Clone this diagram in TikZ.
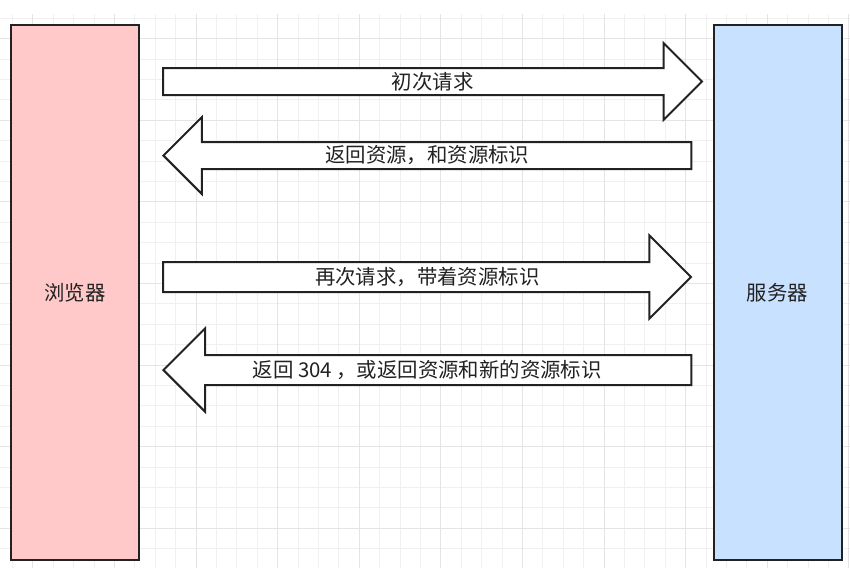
\documentclass[tikz,border=0pt]{standalone}
\usepackage{fontspec}
\setmainfont{Noto Sans CJK SC}
\usetikzlibrary{shapes.arrows,positioning,calc}
\definecolor{browserpink}{HTML}{FFC9C9}
\definecolor{serverblue}{HTML}{C8E1FF}
\definecolor{gridminor}{HTML}{F0F0F0}
\definecolor{gridmajor}{HTML}{E4E4E4}
\definecolor{inkgray}{HTML}{222222}

\begin{document}
\begin{tikzpicture}
  [x=0.75pt, y=-0.75pt,
   endpoint/.style={
     rectangle,
     draw=inkgray,
     line width=1.5pt,
     minimum width=96pt,
     minimum height=401.25pt,
     inner sep=0pt,
     text=inkgray,
     font=\fontsize{15.3pt}{18pt}\selectfont
     },
   message/.style={
     single arrow,
     draw=inkgray,
     fill=white,
     line width=1.5pt,
     inner sep=0pt,
     minimum width=0pt,
     minimum height=396pt,
     text height=15.1pt,
     text depth=3.65pt,
     single arrow head extend=18.75pt
     },
   wide message/.style={
     message,
     text height=16.2pt,
     text depth=4.8pt,
     single arrow head extend=20pt
     },
   caption/.style={
     inner sep=0pt,
     text=inkgray,
     font=\fontsize{15.3pt}{18pt}\selectfont
     }
  ]
  \useasboundingbox (0,0) rectangle (850,572);

  % griglia di sfondo
  \foreach \i in {0,...,41}
    \draw[gridminor, line width=0.75pt] (12.4+20.4*\i,14) -- (12.4+20.4*\i,568);
  \foreach \j in {0,...,26}
    \draw[gridminor, line width=0.75pt] (0,18.2+20.4*\j) -- (850,18.2+20.4*\j);
  \foreach \i in {0,...,10}
    \draw[gridmajor, line width=0.75pt] (32.8+81.6*\i,14) -- (32.8+81.6*\i,568);
  \foreach \j in {0,...,6}
    \draw[gridmajor, line width=0.75pt] (0,38.6+81.6*\j) -- (850,38.6+81.6*\j);

  \node [endpoint, fill=browserpink] (browser) at (75,292.5) {浏览器};
  \node [endpoint, fill=serverblue] (server) at (777.5,292.5) {服务器};

  \node [message, minimum height=404.25pt, anchor=tail] (firstrequest) at (162,81.5) {};
  \node [message, shape border rotate=180, anchor=tip] (firstreply) at (162,155.5) {};
  \node [wide message, anchor=tail] (secondrequest) at (162,277) {};
  \node [wide message, shape border rotate=180, anchor=tip] (secondreply) at (162,370) {};

  \node [caption] (firstrequesttext) at ($(firstrequest.tail)!0.5!(firstrequest.tip)$) {初次请求};
  \node [caption] (firstreplytext) at ($(firstreply.tail)!0.5!(firstreply.tip)$) {返回资源，和资源标识};
  \node [caption] (secondrequesttext) at ($(secondrequest.tail)!0.5!(secondrequest.tip)$) {再次请求，带着资源标识};
  \node [caption] (secondreplytext) at ($(secondreply.tail)!0.5!(secondreply.tip)$) {返回 304 ，或返回资源和新的资源标识};
\end{tikzpicture}
\end{document}
